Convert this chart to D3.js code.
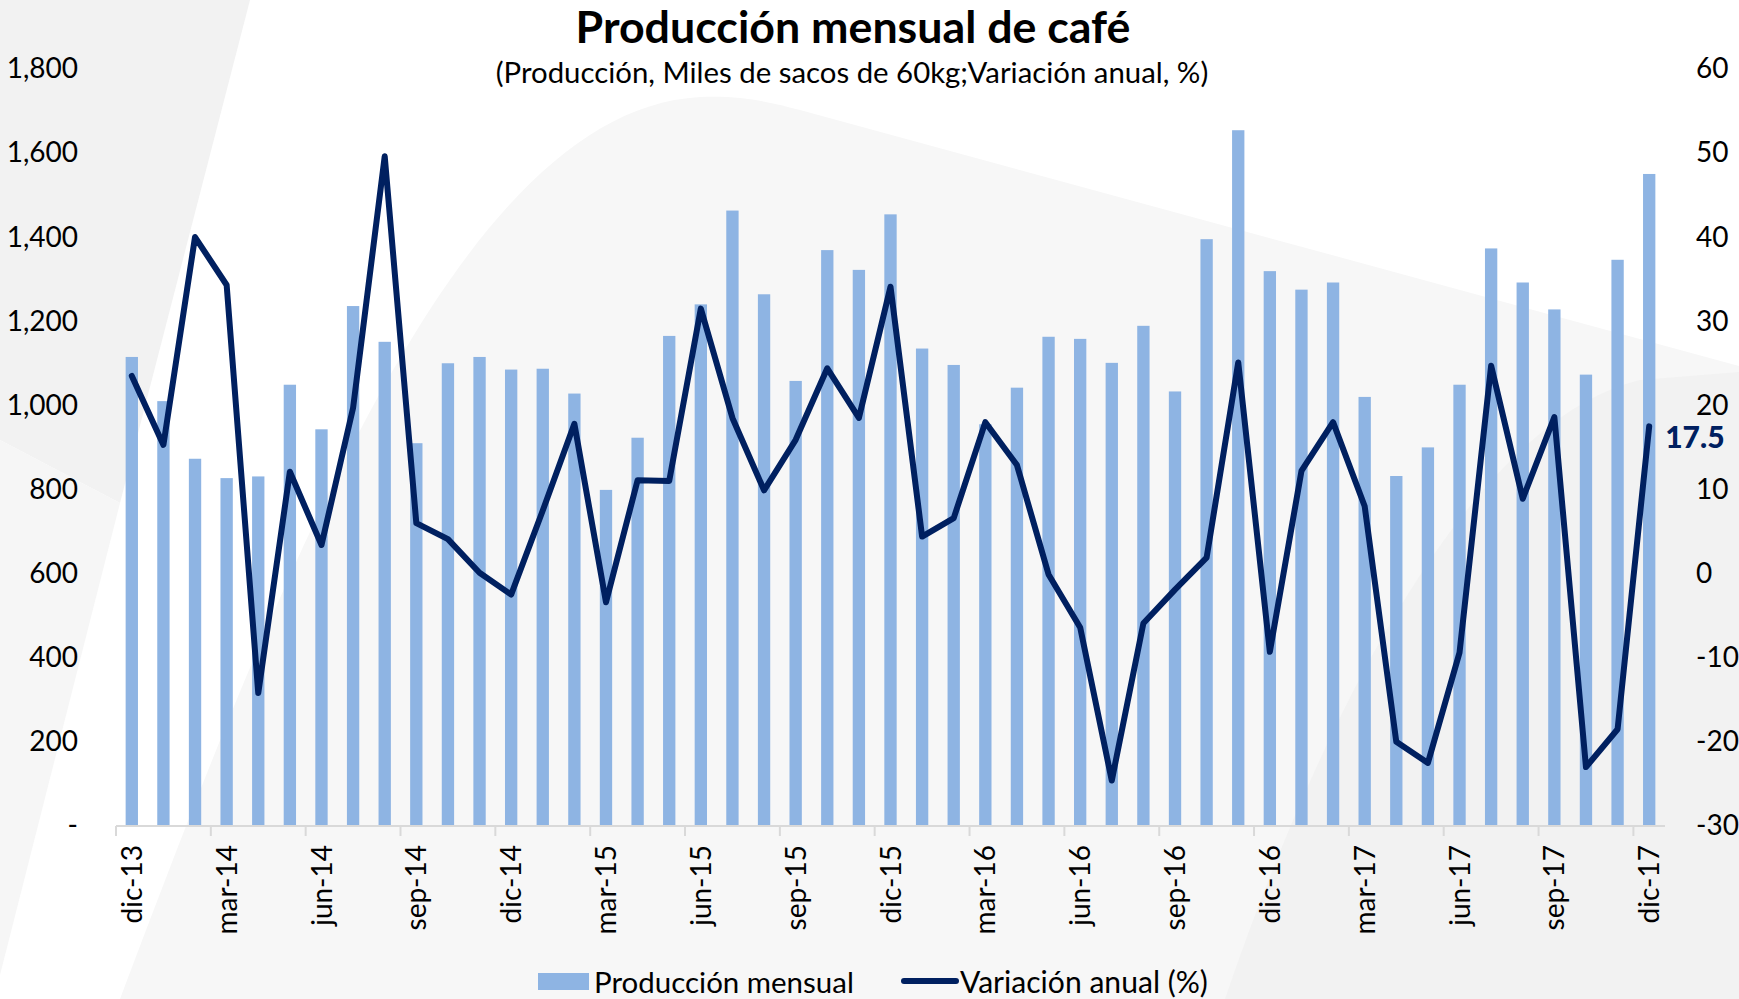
<!DOCTYPE html>
<html>
<head>
<meta charset="utf-8">
<script src="https://cdn.jsdelivr.net/npm/d3@7"></script>
<style>
  html, body { margin: 0; padding: 0; background: #ffffff; }
  svg { display: block; }
</style>
</head>
<body>
<svg id="chart" width="1739" height="999"></svg>
<script>
// ---------------- DATA ----------------
const categories = [
  "dic-13",
  "ene-14","feb-14","mar-14","abr-14","may-14","jun-14","jul-14","ago-14","sep-14","oct-14","nov-14","dic-14",
  "ene-15","feb-15","mar-15","abr-15","may-15","jun-15","jul-15","ago-15","sep-15","oct-15","nov-15","dic-15",
  "ene-16","feb-16","mar-16","abr-16","may-16","jun-16","jul-16","ago-16","sep-16","oct-16","nov-16","dic-16",
  "ene-17","feb-17","mar-17","abr-17","may-17","jun-17","jul-17","ago-17","sep-17","oct-17","nov-17","dic-17"
];
// Producción mensual (miles de sacos de 60kg)
const produccion = [
  1115,
  1010, 873, 827, 831, 1049, 943, 1236, 1151, 910, 1100, 1115, 1085,
  1087, 1028, 799, 923, 1165, 1240, 1463, 1264, 1058, 1369, 1322, 1454,
  1135, 1096, 955, 1042, 1163, 1158, 1101, 1189, 1033, 1395, 1654, 1319,
  1275, 1292, 1020, 832, 900, 1049, 1373, 1292, 1228, 1073, 1346, 1550
];
// Variación anual (%)
const variacion = [
  23.5,
  15.3, 40.0, 34.3, -14.2, 12.1, 3.4, 19.7, 49.6, 6.0, 4.1, 0.1, -2.5,
  7.5, 17.8, -3.4, 11.1, 11.0, 31.5, 18.5, 9.9, 15.9, 24.4, 18.5, 34.1,
  4.4, 6.6, 18.0, 12.9, -0.1, -6.4, -24.6, -5.9, -1.9, 1.9, 25.1, -9.3,
  12.2, 18.0, 8.0, -20.0, -22.5, -9.4, 24.7, 8.9, 18.6, -23.0, -18.5, 17.5
];
const leftTicks = [0, 200, 400, 600, 800, 1000, 1200, 1400, 1600, 1800];
const rightTicks = [-30, -20, -10, 0, 10, 20, 30, 40, 50, 60];
const xTickLabels = categories.filter((c, i) => i % 3 === 0);
const titleText = "Producción mensual de café";
const subtitleText = "(Producción, Miles de sacos de 60kg;Variación anual, %)";
const legendLabels = ["Producción mensual", "Variación anual (%)"];
const lastLabel = "17.5";

// ---------------- LAYOUT ----------------
const FONT = "Lato, 'Open Sans', sans-serif";
const BAR_COLOR = "#8EB4E3";
const LINE_COLOR = "#002060";
const AXIS_COLOR = "#d9d9d9";

const svg = d3.select("#chart");

// background decoration
const bg = svg.append("g");
bg.append("rect").attr("width", 1739).attr("height", 999).attr("fill", "#ffffff");
bg.append("path").attr("fill", "#f7f7f7")
  .attr("d", "M120,999 C300,520 470,110 700,97 C740,95 770,102 800,110 L1739,366 L1739,999 Z");
bg.append("path").attr("fill", "#f2f2f2")
  .attr("d", "M1225,999 C1320,720 1470,420 1640,380 L1739,372 L1739,999 Z");
bg.append("path").attr("fill", "#f2f2f2")
  .attr("d", "M0,0 L250,0 L120,503 L0,440 Z");
bg.append("path").attr("fill", "#f6f6f6")
  .attr("d", "M0,440 L120,503 L0,975 Z");

// scales
const xCat = d3.scaleBand().domain(categories).range([116, 1665]).padding(0);
const yL = d3.scaleLinear().domain([0, 1800]).range([826, 68.8]);
const yR = d3.scaleLinear().domain([-30, 60]).range([826, 68.8]);
const barRatio = 0.39;
const bw = xCat.bandwidth() * barRatio;

// bars
svg.append("g").selectAll("rect")
  .data(categories.map((c, i) => ({ c, v: produccion[i] })))
  .join("rect")
  .attr("x", d => xCat(d.c) + (xCat.bandwidth() - bw) / 2)
  .attr("width", bw)
  .attr("y", d => yL(d.v))
  .attr("height", d => yL(0) - yL(d.v))
  .attr("fill", BAR_COLOR);

// x axis line and tick marks
svg.append("line")
  .attr("x1", xCat.range()[0]).attr("x2", xCat.range()[1])
  .attr("y1", yL(0)).attr("y2", yL(0))
  .attr("stroke", AXIS_COLOR).attr("stroke-width", 2);
svg.append("g").selectAll("line")
  .data(xTickLabels)
  .join("line")
  .attr("x1", d => xCat(d)).attr("x2", d => xCat(d))
  .attr("y1", yL(0)).attr("y2", yL(0) + 10)
  .attr("stroke", AXIS_COLOR).attr("stroke-width", 2);

// x axis labels
const gx = svg.append("g")
  .attr("transform", `translate(0,${yL(0)})`)
  .call(d3.axisBottom(xCat).tickValues(xTickLabels).tickSize(0));
gx.select(".domain").remove();
gx.selectAll("text")
  .attr("transform", "rotate(-90)")
  .attr("x", -19).attr("y", 0).attr("dy", "0.36em")
  .attr("text-anchor", "end")
  .attr("font-family", FONT).attr("font-size", 28).attr("fill", "#000");

// left axis
const gl = svg.append("g")
  .attr("transform", "translate(78,0)")
  .call(d3.axisLeft(yL).tickValues(leftTicks).tickSize(0).tickPadding(0)
    .tickFormat(d => d === 0 ? "-" : d3.format(",")(d)));
gl.select(".domain").remove();
gl.selectAll("text").attr("font-family", FONT).attr("font-size", 28).attr("fill", "#000");

// right axis
const gr = svg.append("g")
  .attr("transform", "translate(1696,0)")
  .call(d3.axisRight(yR).tickValues(rightTicks).tickSize(0).tickPadding(0)
    .tickFormat(d => String(d)));
gr.select(".domain").remove();
gr.selectAll("text").attr("font-family", FONT).attr("font-size", 28).attr("fill", "#000");

// line
const line = d3.line()
  .x((d, i) => xCat(categories[i]) + xCat.bandwidth() / 2)
  .y(d => yR(d));
svg.append("path")
  .datum(variacion)
  .attr("d", line)
  .attr("fill", "none")
  .attr("stroke", LINE_COLOR)
  .attr("stroke-width", 6)
  .attr("stroke-linejoin", "round")
  .attr("stroke-linecap", "round");

// last-point data label
const lastIdx = categories.length - 1;
svg.append("text")
  .attr("x", xCat(categories[lastIdx]) + xCat.bandwidth() / 2 + 16)
  .attr("y", yR(variacion[lastIdx]) + 22)
  .attr("font-family", FONT).attr("font-weight", 900).attr("font-size", 30)
  .attr("fill", LINE_COLOR)
  .text(lastLabel);

// helper to fit text width
function fit(sel, w) {
  const cur = sel.node().getComputedTextLength();
  const fs = parseFloat(sel.attr("font-size"));
  if (cur > 0) sel.attr("font-size", fs * w / cur);
  return sel;
}

// title
fit(svg.append("text")
  .attr("x", 853).attr("y", 43).attr("text-anchor", "middle")
  .attr("font-family", FONT).attr("font-weight", 700).attr("font-size", 39)
  .attr("fill", "#000").text(titleText), 555);
fit(svg.append("text")
  .attr("x", 852).attr("y", 83).attr("text-anchor", "middle")
  .attr("font-family", FONT).attr("font-size", 28)
  .attr("fill", "#000").text(subtitleText), 713);

// legend
const lg = svg.append("g");
lg.append("rect").attr("x", 538).attr("y", 973).attr("width", 51).attr("height", 17).attr("fill", BAR_COLOR);
fit(lg.append("text").attr("x", 594).attr("y", 993)
  .attr("font-family", FONT).attr("font-size", 28).attr("fill", "#000")
  .text(legendLabels[0]), 260);
lg.append("line").attr("x1", 904).attr("x2", 956).attr("y1", 981).attr("y2", 981)
  .attr("stroke", LINE_COLOR).attr("stroke-width", 6).attr("stroke-linecap", "round");
fit(lg.append("text").attr("x", 960).attr("y", 993)
  .attr("font-family", FONT).attr("font-size", 28).attr("fill", "#000")
  .text(legendLabels[1]), 248);
</script>
</body>
</html>
